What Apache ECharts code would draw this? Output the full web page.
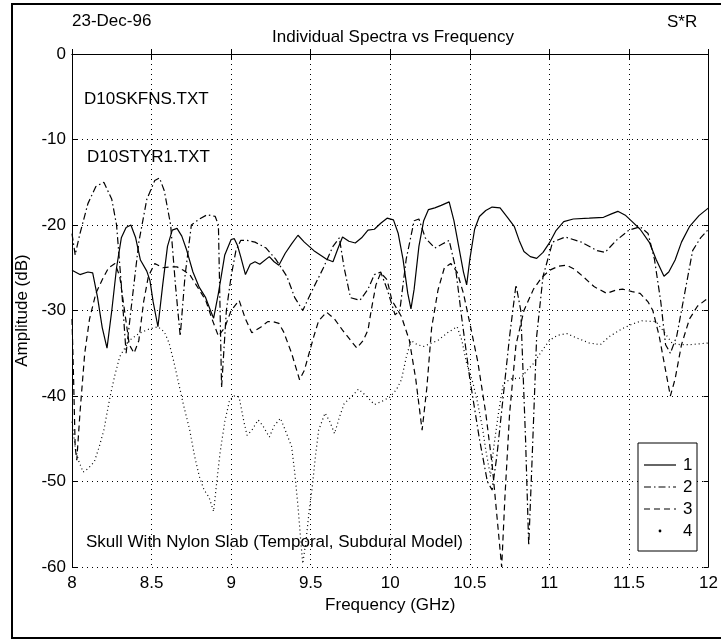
<!DOCTYPE html>
<html>
<head>
<meta charset="utf-8">
<script src="https://cdn.jsdelivr.net/npm/echarts@6/dist/echarts.min.js"></script>
<style>html,body{margin:0;padding:0;background:#fff}#c{width:721px;height:640px}</style>
</head>
<body>
<div id="c"></div>
<script>
// ---- Data ----
var xTicks = [8, 8.5, 9, 9.5, 10, 10.5, 11, 11.5, 12];
var yTicks = [0, -10, -20, -30, -40, -50, -60];

var freq1 = [8.00,8.05,8.10,8.13,8.16,8.19,8.22,8.25,8.28,8.31,8.34,8.37,8.40,8.43,8.47,8.49,8.51,8.54,8.57,8.60,8.63,8.66,8.69,8.72,8.76,8.80,8.84,8.87,8.89,8.92,8.96,9.00,9.02,9.04,9.06,9.09,9.12,9.15,9.18,9.24,9.27,9.30,9.34,9.38,9.42,9.46,9.52,9.56,9.60,9.64,9.67,9.70,9.74,9.78,9.82,9.86,9.90,9.94,9.98,10.02,10.05,10.08,10.11,10.13,10.15,10.18,10.21,10.24,10.28,10.32,10.37,10.40,10.43,10.46,10.48,10.50,10.53,10.56,10.60,10.64,10.69,10.74,10.78,10.81,10.84,10.88,10.92,10.96,11.00,11.04,11.09,11.15,11.25,11.34,11.39,11.43,11.48,11.52,11.57,11.63,11.67,11.72,11.75,11.79,11.83,11.88,11.94,12.00];
var amp1 = [-25.3,-25.8,-25.5,-25.6,-28.4,-32,-34.4,-30,-25,-21.5,-20.3,-20.0,-21.5,-24.1,-25.4,-26.5,-29,-31.9,-27,-22.5,-20.6,-20.4,-21.3,-22.9,-25.5,-27.3,-28.5,-30,-30.9,-28,-23.5,-21.7,-21.6,-22.4,-23.7,-25.8,-24.6,-24.3,-24.6,-23.7,-24.3,-24.7,-23.3,-22.2,-21.2,-22,-23,-23.5,-24,-24.3,-22.8,-21.4,-21.9,-22.1,-21.5,-20.6,-20.5,-19.8,-19.2,-19.4,-21,-24,-28,-29.8,-27.5,-22.5,-19.5,-18.2,-18.0,-17.7,-17.3,-19.5,-22.5,-25.5,-27,-24,-20.5,-19.0,-18.3,-17.9,-18.0,-19.2,-20.2,-21.8,-23.1,-23.7,-23.9,-23.2,-22.1,-20.7,-19.6,-19.3,-19.2,-19.1,-18.7,-18.4,-18.9,-19.6,-20.5,-22.1,-24,-26.0,-25.5,-24.1,-22,-20.2,-18.9,-18.0];

var freq2 = [8.00,8.02,8.05,8.10,8.15,8.20,8.25,8.28,8.31,8.34,8.37,8.42,8.47,8.52,8.55,8.58,8.62,8.65,8.68,8.71,8.75,8.80,8.85,8.90,8.92,8.94,8.97,9.00,9.03,9.06,9.10,9.15,9.22,9.28,9.35,9.40,9.45,9.50,9.58,9.64,9.68,9.71,9.75,9.81,9.86,9.90,9.94,9.98,10.03,10.06,10.10,10.15,10.18,10.22,10.28,10.33,10.37,10.41,10.45,10.50,10.56,10.61,10.64,10.67,10.71,10.75,10.79,10.82,10.85,10.87,10.89,10.92,10.96,11.02,11.10,11.20,11.30,11.35,11.42,11.50,11.57,11.62,11.66,11.70,11.73,11.76,11.80,11.85,11.90,11.95,12.00];
var amp2 = [-21,-23.5,-21,-17.5,-15.5,-15,-17,-20,-27,-35,-30,-22,-17,-14.8,-14.5,-16,-20,-27,-33,-26,-20,-19.3,-18.8,-19,-20,-39,-30,-26,-23,-21.8,-21.8,-22,-22.7,-24,-26,-28.5,-30,-28,-25,-22.5,-21.5,-25,-28.5,-28.8,-27.5,-25.8,-25.5,-27.5,-30.5,-30,-24,-19.5,-19.3,-21.5,-22.7,-22.2,-21.8,-25,-31,-38,-45,-50,-51,-47,-40,-33,-27,-30,-45,-57.5,-48,-33,-26,-22,-21.4,-22,-23,-23.2,-21.8,-20.6,-20.2,-21,-24,-29,-34,-35,-33,-28,-23,-21.5,-20.5];

var freq3 = [8.00,8.01,8.02,8.03,8.05,8.08,8.11,8.15,8.19,8.23,8.27,8.30,8.33,8.36,8.39,8.42,8.45,8.48,8.52,8.57,8.62,8.66,8.70,8.74,8.80,8.84,8.88,8.92,8.96,9.00,9.05,9.09,9.13,9.19,9.23,9.26,9.30,9.33,9.38,9.43,9.46,9.49,9.52,9.55,9.60,9.65,9.70,9.73,9.79,9.83,9.86,9.88,9.91,9.94,9.98,10.01,10.07,10.12,10.16,10.20,10.23,10.26,10.30,10.34,10.38,10.42,10.46,10.50,10.55,10.60,10.64,10.67,10.70,10.72,10.75,10.79,10.84,10.90,10.95,11.00,11.06,11.11,11.16,11.21,11.28,11.36,11.42,11.46,11.52,11.57,11.62,11.65,11.69,11.73,11.76,11.79,11.83,11.88,11.93,12.00];
var amp3 = [-31,-38,-46,-47.5,-42,-35,-31,-28,-26.4,-25,-24.5,-26,-30,-34,-35,-33.5,-29,-26,-24.5,-25,-24.9,-24.9,-25.3,-25.8,-27.6,-28.8,-31,-33,-32,-30,-28.8,-31,-32.6,-31.9,-31.3,-31.3,-31.5,-32.5,-35,-38.1,-37,-35,-33,-31.2,-30.2,-31,-32.3,-33,-34.4,-33.5,-32.3,-30,-27,-25.6,-26.4,-28.8,-30.7,-33.5,-38,-44,-39,-32,-27.6,-25,-24.5,-25.5,-28,-31.5,-36,-42,-48,-54,-60,-52,-42,-34,-30,-27.5,-26.2,-25.3,-24.8,-24.7,-25.2,-26,-27.2,-28,-27.6,-27.5,-27.8,-28,-29,-30,-33,-37,-40,-38,-34,-31,-29.5,-28.5];

var freq4 = [8.00,8.02,8.04,8.07,8.10,8.14,8.17,8.20,8.24,8.27,8.30,8.36,8.42,8.48,8.54,8.58,8.61,8.64,8.67,8.70,8.74,8.77,8.80,8.83,8.86,8.89,8.91,8.93,8.96,8.99,9.02,9.05,9.08,9.10,9.13,9.17,9.20,9.24,9.27,9.31,9.34,9.38,9.40,9.42,9.44,9.45,9.47,9.49,9.51,9.53,9.55,9.59,9.62,9.65,9.68,9.71,9.76,9.80,9.85,9.90,9.95,10.00,10.04,10.07,10.10,10.13,10.17,10.21,10.26,10.30,10.36,10.42,10.45,10.48,10.52,10.55,10.58,10.60,10.63,10.65,10.68,10.71,10.76,10.82,10.86,10.90,10.95,11.00,11.05,11.11,11.17,11.25,11.32,11.38,11.46,11.52,11.58,11.67,11.72,11.77,11.82,11.88,11.94,12.00];
var amp4 = [-43,-46,-47.5,-48.9,-48.5,-47.7,-46,-44,-40,-37.5,-35.4,-33.5,-32.7,-32.2,-31.9,-32.5,-33.8,-36,-38.5,-41,-44,-47,-49.4,-51,-51.8,-53.5,-50,-46.7,-43,-40.5,-40,-40.1,-43,-44.6,-44,-42.8,-43.5,-44.8,-43.5,-42.6,-44,-45.9,-49,-52.9,-57.5,-59.6,-57,-53.5,-50.6,-47,-44,-42,-43,-44.4,-42.5,-40.9,-40,-39.2,-40,-41,-40.6,-40.1,-39.2,-38.1,-35.5,-33.5,-34,-34.2,-33.8,-33.5,-32.6,-31.9,-33.5,-36.2,-38.5,-40.9,-43.8,-46.3,-49.4,-46,-42,-38.5,-38,-37.9,-37,-36.2,-34.8,-33.5,-32.9,-32.7,-33.2,-33.8,-34,-33,-32.1,-31.6,-31.2,-31.3,-32.5,-33.8,-34,-34,-33.9,-33.8];

var seriesNames = ['1', '2', '3', '4'];

// ---- Chart ----
function zip(f, a) { return f.map(function (v, i) { return [v, a[i]]; }); }
var FONT = '"Liberation Sans", Arial, sans-serif';
var FS = 17;
var chart = echarts.init(document.getElementById('c'), null, { renderer: 'canvas' });

var dashStyles = ['solid', [7, 3, 1.5, 3], [6, 4], [1, 3]];
var datasets = [zip(freq1, amp1), zip(freq2, amp2), zip(freq3, amp3), zip(freq4, amp4)];

var series = datasets.map(function (d, i) {
  return {
    name: seriesNames[i], type: 'line', data: d, showSymbol: false, smooth: false,
    xAxisIndex: 0, yAxisIndex: 0, animation: false,
    lineStyle: { color: '#000', width: 1.2, type: dashStyles[i] }
  };
});

var axisCommon = {
  axisLine: { show: true, lineStyle: { color: '#000', width: 1 } },
  axisTick: { show: true, inside: true, length: 5, lineStyle: { color: '#000' } }
};

var legendX = 638, legendY = 443, legendW = 59, legendH = 108;
var rowY = [465, 487, 509, 531];
var font = FS + 'px ' + FONT;

var graphics = [
  { type: 'rect', shape: { x: 12, y: 4, width: 720, height: 634 }, style: { fill: 'none', stroke: '#000', lineWidth: 2 }, silent: true },
  { type: 'text', x: 72, y: 21, style: { text: '23-Dec-96', font: font, fill: '#000', textVerticalAlign: 'middle' } },
  { type: 'text', x: 667, y: 22, style: { text: 'S*R', font: font, fill: '#000', textVerticalAlign: 'middle' } },
  { type: 'text', x: 393, y: 37, style: { text: 'Individual Spectra vs Frequency', font: font, fill: '#000', textAlign: 'center', textVerticalAlign: 'middle' } },
  { type: 'text', x: 84, y: 99, style: { text: 'D10SKFNS.TXT', font: font, fill: '#000', textVerticalAlign: 'middle' } },
  { type: 'text', x: 87, y: 157, style: { text: 'D10STYR1.TXT', font: font, fill: '#000', textVerticalAlign: 'middle' } },
  { type: 'text', x: 86, y: 542, z: 10, style: { text: 'Skull With Nylon Slab (Temporal, Subdural Model)', font: font, fill: '#000', textVerticalAlign: 'middle' } },
  { type: 'rect', z: 20, shape: { x: legendX, y: legendY, width: legendW, height: legendH }, style: { fill: '#fff', stroke: '#000', lineWidth: 1 } }
];
for (var i = 0; i < 4; i++) {
  if (i < 3) {
    graphics.push({ type: 'line', z: 21, shape: { x1: 644, y1: rowY[i], x2: 676, y2: rowY[i] }, style: { stroke: '#000', lineWidth: 1.2, lineDash: dashStyles[i] === 'solid' ? null : dashStyles[i] } });
  } else {
    graphics.push({ type: 'circle', z: 21, shape: { cx: 660, cy: rowY[i], r: 1.4 }, style: { fill: '#000' } });
  }
  graphics.push({ type: 'text', z: 21, x: 683, y: rowY[i], style: { text: seriesNames[i], font: font, fill: '#000', textVerticalAlign: 'middle' } });
}

chart.setOption({
  animation: false,
  backgroundColor: '#fff',
  grid: { left: 72, right: 8, top: 54, bottom: 73, containLabel: false },
  xAxis: [
    Object.assign({
      type: 'value', min: 8, max: 12, interval: 0.5, position: 'bottom',
      name: 'Frequency (GHz)', nameLocation: 'middle', nameGap: 25,
      nameTextStyle: { fontFamily: FONT, fontSize: FS, color: '#000' },
      axisLabel: { margin: 8, fontFamily: FONT, fontSize: FS, color: '#000', formatter: function (v) { return xTicks.indexOf(v) >= 0 ? String(v) : ''; } },
      splitLine: { show: true, lineStyle: { color: '#000', width: 1, type: [1, 4] } }
    }, axisCommon),
    Object.assign({
      type: 'value', min: 8, max: 12, interval: 0.5, position: 'top',
      axisLabel: { show: false }, splitLine: { show: false }
    }, axisCommon)
  ],
  yAxis: [
    Object.assign({
      type: 'value', min: -60, max: 0, interval: 10, position: 'left',
      name: 'Amplitude (dB)', nameLocation: 'middle', nameGap: 30, nameRotate: 90,
      nameTextStyle: { fontFamily: FONT, fontSize: FS, color: '#000' },
      axisLabel: { margin: 6, fontFamily: FONT, fontSize: FS, color: '#000', formatter: function (v) { return yTicks.indexOf(v) >= 0 ? String(v) : ''; } },
      splitLine: { show: true, lineStyle: { color: '#000', width: 1, type: [1, 4] } }
    }, axisCommon),
    Object.assign({
      type: 'value', min: -60, max: 0, interval: 10, position: 'right',
      axisLabel: { show: false }, splitLine: { show: false }
    }, axisCommon)
  ],
  series: series,
  graphic: graphics
});
</script>
</body>
</html>
